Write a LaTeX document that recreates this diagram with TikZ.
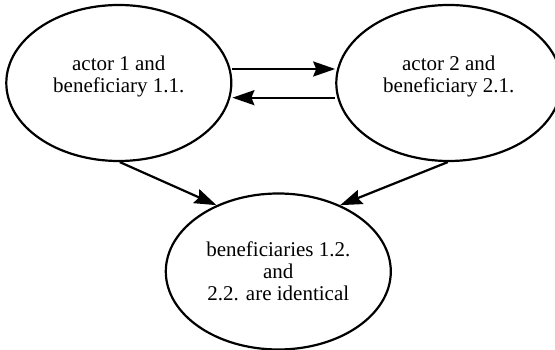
\documentclass[tikz,border=0pt]{standalone}
\usepackage{fontspec}
\setmainfont{Liberation Serif}
\usetikzlibrary{shapes.geometric,arrows.meta}
\tikzset{
  oval/.style={ellipse,draw=black,line width=2.2pt,minimum width=225pt,minimum height=156pt,inner sep=0pt},
  lbl/.style={align=center,inner sep=0pt,font=\fontsize{21}{22}\selectfont},
  arr/.style={line width=2.2pt,-{Stealth[length=22pt,width=15pt,inset=3pt]}}
}
\begin{document}
\begin{tikzpicture}[x=1pt,y=-1pt]
\useasboundingbox (0,0) rectangle (555,350);
\clip (0,0) rectangle (555,350);
\node[oval] (e1) at (118.8,83) {};
\node[oval] (e2) at (448.8,83) {};
\node[oval] (e3) at (278.3,271.5) {};
\node[lbl] (t1) at (118.8,76.2) {actor 1 and\\beneficiary 1.1.};
\node[lbl] (t2) at (448.8,76.2) {actor 2 and\\beneficiary 2.1.};
\node[lbl,font=\fontsize{21}{21.7}\selectfont] (t3) at (278.3,271.2) {beneficiaries 1.2.\\and\\2.2. are identical};
\draw[arr] ([yshift=14pt]e1.east) -- ([yshift=14pt]e2.west);
\draw[arr] ([yshift=-14.7pt]e2.west) -- ([yshift=-14.7pt]e1.east);
\draw[arr] ([xshift=1pt]e1.south) -- (e3.133);
\draw[arr] ([xshift=-1pt]e2.south) -- (e3.47);
\end{tikzpicture}
\end{document}
